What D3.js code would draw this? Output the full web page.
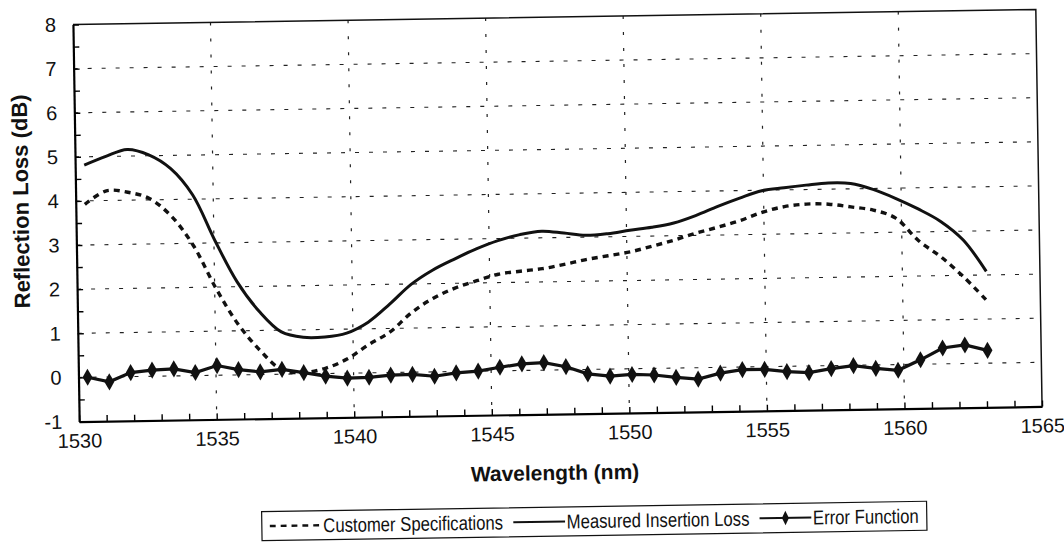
<!DOCTYPE html>
<html>
<head>
<meta charset="utf-8">
<script src="https://cdn.jsdelivr.net/npm/d3@7"></script>
<style>
  body { margin: 0; background: #fff; }
  svg { display: block; }
  text { font-family: "Liberation Sans", Arial, sans-serif; fill: #111; }
</style>
</head>
<body>
<div id="chart"></div>
<script>
// ITU 100 GHz grid wavelengths (nm), one point per channel
var wavelengths = [1530.33, 1531.12, 1531.90, 1532.68, 1533.47, 1534.25, 1535.04, 1535.82, 1536.61, 1537.40,
  1538.19, 1538.98, 1539.77, 1540.56, 1541.35, 1542.14, 1542.94, 1543.73, 1544.53, 1545.32,
  1546.12, 1546.92, 1547.72, 1548.51, 1549.32, 1550.12, 1550.92, 1551.72, 1552.52, 1553.33,
  1554.13, 1554.94, 1555.75, 1556.55, 1557.36, 1558.17, 1558.98, 1559.79, 1560.61, 1561.42,
  1562.23, 1563.05];

var customerSpec = [3.92, 4.22, 4.18, 4.03, 3.62, 2.95, 1.98, 1.16, 0.55, 0.10,
  0.03, 0.12, 0.32, 0.64, 0.92, 1.35, 1.67, 1.89, 2.05, 2.19,
  2.25, 2.30, 2.39, 2.49, 2.57, 2.65, 2.77, 2.90, 3.05, 3.18,
  3.32, 3.50, 3.62, 3.67, 3.66, 3.59, 3.51, 3.32, 2.80, 2.42,
  1.96, 1.42];

var measuredLoss = [4.81, 5.00, 5.15, 5.02, 4.70, 4.10, 3.05, 2.11, 1.43, 0.96,
  0.83, 0.83, 0.91, 1.15, 1.55, 1.99, 2.31, 2.55, 2.77, 2.95,
  3.08, 3.15, 3.10, 3.04, 3.07, 3.14, 3.20, 3.29, 3.45, 3.65,
  3.83, 3.99, 4.05, 4.10, 4.14, 4.12, 3.98, 3.77, 3.52, 3.23,
  2.80, 2.08];

var errorFunction = [0.00, -0.11, 0.09, 0.14, 0.16, 0.07, 0.22, 0.12, 0.06, 0.11,
  0.03, -0.06, -0.11, -0.10, -0.06, -0.05, -0.10, -0.03, 0.00, 0.08,
  0.15, 0.17, 0.07, -0.10, -0.16, -0.13, -0.15, -0.21, -0.26, -0.13,
  -0.06, -0.06, -0.12, -0.15, -0.07, -0.01, -0.08, -0.13, 0.10, 0.36,
  0.42, 0.29];

var xTickValues = [1530, 1535, 1540, 1545, 1550, 1555, 1560, 1565];
var yTickValues = [-1, 0, 1, 2, 3, 4, 5, 6, 7, 8];
var seriesNames = ["Customer Specifications", "Measured Insertion Loss", "Error Function"];

// the scanned figure sits slightly tilted
const margin = {top: 17, left: 76},
      width = 963,
      height = 397;

const svg = d3.select("#chart")
  .append("svg")
  .attr("width", 1064)
  .attr("height", 549);

const g = svg.append("g")
  .attr("transform", `rotate(-0.9, 557.5, 215.75) translate(${margin.left}, ${margin.top})`);

const x = d3.scaleLinear().domain([1530, 1565]).range([0, width]);
const y = d3.scaleLinear().domain([-1, 8]).range([height, 0]);

// grid
g.append("g")
  .selectAll("line")
  .data(yTickValues.filter(d => d > -1 && d < 8))
  .join("line")
    .attr("x1", 0).attr("x2", width)
    .attr("y1", d => y(d)).attr("y2", d => y(d))
    .attr("stroke", "#222").attr("stroke-width", 1.1)
    .attr("stroke-dasharray", "4,10");

g.append("g")
  .selectAll("line")
  .data(xTickValues.filter(d => d > 1530 && d < 1565))
  .join("line")
    .attr("x1", d => x(d)).attr("x2", d => x(d))
    .attr("y1", 0).attr("y2", height)
    .attr("stroke", "#222").attr("stroke-width", 1.2)
    .attr("stroke-dasharray", "3,13");

// frame top / right
g.append("path")
  .attr("d", `M0,0H${width}V${height}`)
  .attr("fill", "none").attr("stroke", "#111").attr("stroke-width", 1.5);

// axes with inward ticks
const yAxis = g.append("g")
  .call(d3.axisLeft(y)
    .tickValues(d3.range(-1, 8.01, 0.5))
    .tickSize(-6).tickSizeOuter(0).tickPadding(17)
    .tickFormat(d => Number.isInteger(d) ? d : ""));
yAxis.select(".domain").attr("stroke-width", 2.2);
yAxis.selectAll(".tick line").attr("stroke-width", 1.4);
yAxis.selectAll("text").style("font-size", "20px");

const xAxis = g.append("g")
  .attr("transform", `translate(0, ${height})`)
  .call(d3.axisBottom(x)
    .tickValues(d3.range(1530, 1565.01, 1))
    .tickSize(-6).tickSizeOuter(0).tickPadding(12)
    .tickFormat(d => d % 5 === 0 ? d : ""));
xAxis.select(".domain").attr("stroke-width", 2.2);
xAxis.selectAll(".tick line").attr("stroke-width", 1.4);
xAxis.selectAll("text").style("font-size", "20px");

// axis titles
g.append("text")
  .attr("transform", `translate(-55, ${176}) rotate(-90)`)
  .attr("text-anchor", "middle")
  .attr("dy", "0.35em")
  .style("font-size", "22px").style("font-weight", "bold")
  .text("Reflection Loss (dB)");

g.append("text")
  .attr("x", 475).attr("y", 463)
  .attr("text-anchor", "middle")
  .style("font-size", "21px").style("font-weight", "bold")
  .text("Wavelength (nm)");

// series
const smoothLine = d3.line()
  .x((d, i) => x(wavelengths[i])).y(d => y(d))
  .curve(d3.curveCatmullRom);

g.append("path")
  .datum(customerSpec)
  .attr("d", smoothLine)
  .attr("fill", "none").attr("stroke", "#111")
  .attr("stroke-width", 3.4).attr("stroke-dasharray", "6,5");

g.append("path")
  .datum(measuredLoss)
  .attr("d", smoothLine)
  .attr("fill", "none").attr("stroke", "#111")
  .attr("stroke-width", 3);

const errLine = d3.line()
  .x((d, i) => x(wavelengths[i])).y(d => y(d));

g.append("path")
  .datum(errorFunction)
  .attr("d", errLine)
  .attr("fill", "none").attr("stroke", "#111")
  .attr("stroke-width", 3.2);

const diamond = d3.symbol().type(d3.symbolDiamond).size(85);
g.append("g")
  .selectAll("path")
  .data(errorFunction)
  .join("path")
    .attr("transform", (d, i) => `translate(${x(wavelengths[i])}, ${y(d)})`)
    .attr("d", diamond)
    .attr("fill", "#111");

// legend: items laid out at natural width, then squeezed to fit the box
const legX = 181, legY = 490, legW = 665, legH = 29;
const legend = g.append("g").attr("transform", `translate(${legX}, ${legY})`);
legend.append("rect")
  .attr("width", legW).attr("height", legH)
  .attr("fill", "#fff").attr("stroke", "#111").attr("stroke-width", 1.2);

const items = legend.append("g");
let cx = 0;
seriesNames.forEach((name, i) => {
  const ly = legH / 2;
  const sample = items.append("line")
    .attr("x1", cx).attr("x2", cx + 62)
    .attr("y1", ly).attr("y2", ly)
    .attr("stroke", "#111").attr("stroke-width", i === 0 ? 2.4 : 2);
  if (i === 0) sample.attr("stroke-dasharray", "7,6");
  if (i === 2) {
    items.append("path")
      .attr("transform", `translate(${cx + 31}, ${ly})`)
      .attr("d", d3.symbol().type(d3.symbolDiamond).size(60))
      .attr("fill", "#111");
  }
  const t = items.append("text")
    .attr("x", cx + 64).attr("y", ly)
    .attr("dy", "0.35em")
    .style("font-size", "20px")
    .text(name);
  cx += 64 + t.node().getComputedTextLength() + (i < 2 ? 12 : 0);
});
const squeeze = (legW - 16) / cx;
items.attr("transform", `translate(8, 0) scale(${squeeze}, 1)`);
</script>
</body>
</html>
